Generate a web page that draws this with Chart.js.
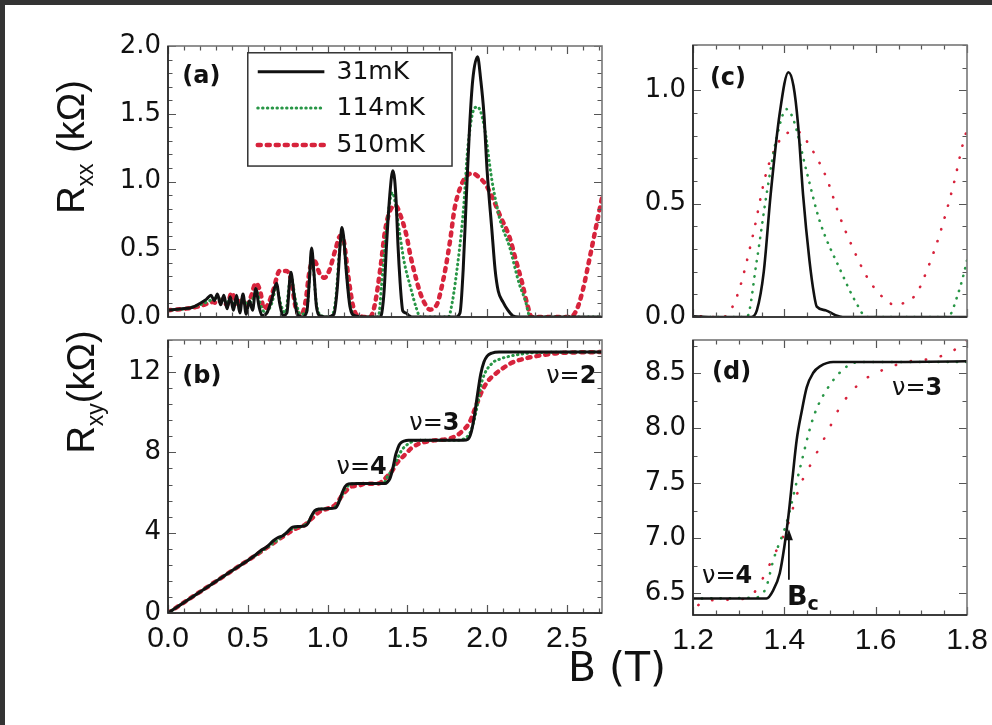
<!DOCTYPE html>
<html><head><meta charset="utf-8">
<script src="https://cdn.jsdelivr.net/npm/chart.js@4.4.0/dist/chart.umd.min.js"></script>
<style>
html,body{margin:0;padding:0;background:#333;width:992px;height:725px;overflow:hidden;}
#page{position:absolute;left:5px;top:5px;width:987px;height:720px;background:#fff;}
.pane{position:absolute;}
.title{position:absolute;font-family:'Liberation Sans',Arial,sans-serif;color:#111;white-space:nowrap;line-height:1;}
.rot{transform:translate(-50%,-50%) rotate(-90deg);font-size:38px;}
.rot sub{font-size:23px;vertical-align:-9px;}
</style></head><body>
<div id="page"></div>
<div class="pane" style="left:80px;top:30px;"><canvas id="ca" width="540" height="300"></canvas></div>
<div class="pane" style="left:80px;top:330px;"><canvas id="cb" width="540" height="330"></canvas></div>
<div class="pane" style="left:610px;top:30px;"><canvas id="cc" width="380" height="300"></canvas></div>
<div class="pane" style="left:610px;top:330px;"><canvas id="cd" width="380" height="330"></canvas></div>
<div class="title rot" style="left:74px;top:147px;">R<sub>xx</sub> (kΩ)</div>
<div class="title rot" style="left:84px;top:392px;">R<sub>xy</sub>(kΩ)</div>
<div class="title" style="left:617px;top:667px;transform:translate(-50%,-50%);font-family:'DejaVu Sans',sans-serif;font-size:41px;">B (T)</div>
<script>
// ---------- DATA ----------
const seriesNames = ['31mK', '114mK', '510mK'];

// R_xx, 31 mK
const Bxx31 = [0,0.08,0.15,0.2,0.24,0.27,0.29,0.31,0.33,0.35,
  0.37,0.39,0.41,0.43,0.45,0.47,0.49,0.51,0.53,0.55,
  0.57,0.59,0.62,0.65,0.68,0.70,0.72,0.745,0.77,0.79,
  0.81,0.84,0.87,0.885,0.90,0.915,0.93,0.95,1.00,1.04,
  1.06,1.08,1.09,1.10,1.12,1.14,1.17,1.25,1.328,1.34,
  1.355,1.37,1.39,1.409,1.42,1.43,1.441,1.455,1.465,1.471,
  1.49,1.51,1.528,1.6,1.8,1.83,1.85,1.87,1.89,1.91,
  1.94,1.96,1.98,2.00,2.03,2.05,2.07,2.10,2.13,2.16,
  2.2,2.72];
const Rxx31 = [0.05,0.06,0.07,0.10,0.13,0.16,0.12,0.17,0.09,0.16,
  0.06,0.15,0.05,0.16,0.03,0.17,0.02,0.12,0.05,0.21,
  0.08,0.01,0.03,0.13,0.25,0.10,0.01,0.03,0.33,0.16,
  0.02,0.00,0.04,0.25,0.51,0.32,0.08,0.01,0.00,0.02,
  0.20,0.55,0.66,0.60,0.30,0.08,0.01,0,0,0.03,
  0.20,0.54,0.90,1.08,1.02,0.85,0.54,0.25,0.10,0.046,
  0.03,0.01,0,0,0,0.03,0.35,0.89,1.40,1.75,
  1.92,1.75,1.50,1.08,0.64,0.35,0.19,0.11,0.05,0.01,
  0,0];

// R_xx, 114 mK
const Bxx114 = [0,0.1,0.2,0.26,0.30,0.34,0.38,0.42,0.46,0.50,
  0.53,0.555,0.58,0.61,0.65,0.68,0.71,0.735,0.77,0.80,
  0.83,0.87,0.90,0.93,0.96,1.02,1.05,1.08,1.095,1.11,
  1.14,1.17,1.2,1.318,1.339,1.361,1.383,1.405,1.42,1.449,
  1.478,1.522,1.558,1.58,1.758,1.78,1.80,1.85,1.88,1.92,
  1.94,1.98,2.03,2.08,2.14,2.20,2.24,2.27,2.72];
const Rxx114 = [0.05,0.06,0.09,0.12,0.14,0.13,0.11,0.10,0.12,0.10,
  0.13,0.19,0.09,0.03,0.10,0.22,0.08,0.03,0.30,0.12,
  0.02,0.05,0.46,0.10,0.01,0.0,0.12,0.55,0.60,0.45,
  0.10,0.01,0,0,0.24,0.54,0.79,0.917,0.87,0.64,
  0.42,0.21,0.06,0,0,0.10,0.25,0.77,1.26,1.54,
  1.55,1.42,1.01,0.72,0.52,0.25,0.12,0,0];

// R_xx, 510 mK
const Bxx510 = [0,0.1,0.2,0.25,0.28,0.31,0.34,0.37,0.40,0.43,
  0.46,0.49,0.52,0.55,0.58,0.60,0.63,0.66,0.70,0.74,
  0.77,0.80,0.83,0.86,0.89,0.92,0.95,0.98,1.01,1.05,
  1.08,1.10,1.13,1.16,1.19,1.266,1.296,1.33,1.361,1.39,
  1.427,1.46,1.493,1.52,1.551,1.58,1.61,1.642,1.67,1.69,
  1.715,1.741,1.77,1.796,1.83,1.87,1.91,1.95,1.99,2.03,
  2.08,2.14,2.18,2.22,2.25,2.28,2.52,2.56,2.60,2.64,
  2.68,2.72];
const Rxx510 = [0.05,0.06,0.08,0.10,0.11,0.10,0.13,0.09,0.18,0.10,
  0.14,0.08,0.15,0.25,0.18,0.06,0.10,0.20,0.34,0.34,
  0.28,0.07,0.01,0.10,0.36,0.41,0.32,0.29,0.34,0.50,
  0.60,0.57,0.30,0.08,0.01,0,0.09,0.35,0.64,0.78,
  0.82,0.74,0.61,0.45,0.30,0.18,0.098,0.054,0.07,0.105,
  0.22,0.37,0.58,0.80,0.95,1.04,1.06,1.03,0.98,0.89,
  0.75,0.59,0.42,0.25,0.10,0,0,0.05,0.20,0.42,
  0.65,0.88];

// R_xy, 31 mK
const Bxy31 = [0,0.2,0.4,0.5,0.55,0.58,0.62,0.66,0.69,0.72,
  0.75,0.78,0.82,0.86,0.88,0.90,0.92,0.95,1.0,1.05,
  1.07,1.09,1.11,1.13,1.2,1.3,1.361,1.375,1.39,1.40,
  1.409,1.418,1.427,1.438,1.449,1.463,1.478,1.507,1.6,1.85,
  1.88,1.90,1.92,1.94,1.96,1.98,2.0,2.03,2.075,2.72];
const Rxy31 = [0,1.05,2.1,2.62,2.9,3.1,3.3,3.6,3.76,3.85,
  4.05,4.28,4.31,4.34,4.5,4.85,5.1,5.18,5.2,5.24,
  5.5,5.95,6.3,6.43,6.45,6.45,6.45,6.52,6.68,6.92,
  7.2,7.55,7.89,8.15,8.37,8.5,8.56,8.6,8.6,8.61,
  8.66,9.0,9.8,10.9,11.9,12.5,12.8,12.95,13.0,13.0];

// R_xy, 114 mK
const Bxy114 = [0,0.2,0.4,0.5,0.6,0.7,0.78,0.84,0.88,0.91,
  0.94,1.0,1.05,1.08,1.11,1.14,1.2,1.339,1.36,1.376,
  1.405,1.434,1.463,1.493,1.537,1.566,1.8,1.86,1.9,1.93,
  1.97,2.03,2.08,2.13,2.2,2.3,2.72];
const Rxy114 = [0,1.05,2.1,2.62,3.15,3.72,4.2,4.32,4.55,4.95,
  5.15,5.2,5.3,5.7,6.15,6.4,6.45,6.46,6.55,6.80,
  7.14,7.63,8.09,8.35,8.56,8.6,8.6,8.7,9.1,10.0,
  11.6,12.43,12.65,12.77,12.88,12.97,13.0];

// R_xy, 510 mK
const Bxy510 = [0,0.2,0.4,0.5,0.6,0.7,0.8,0.85,0.9,0.95,
  1.0,1.05,1.1,1.15,1.2,1.225,1.32,1.347,1.376,1.405,
  1.434,1.463,1.493,1.522,1.566,1.617,1.668,1.741,1.8,1.85,
  1.89,1.93,1.97,2.01,2.05,2.1,2.15,2.25,2.35,2.45,
  2.72];
const Rxy510 = [0,1.05,2.1,2.62,3.15,3.7,4.2,4.35,4.7,5.05,
  5.2,5.4,5.95,6.3,6.35,6.43,6.45,6.59,6.83,7.09,
  7.47,7.71,7.95,8.19,8.41,8.53,8.60,8.65,8.80,9.1,
  9.5,10.3,11.1,11.6,11.9,12.2,12.45,12.7,12.85,12.95,
  13.0];

// tick labels
const ticksB_full = [0, 0.5, 1.0, 1.5, 2.0, 2.5];
const ticksB_zoom = [1.2, 1.4, 1.6, 1.8];
const ticksRxx_full = [0, 0.5, 1.0, 1.5, 2.0];
const ticksRxy_full = [0, 4, 8, 12];
const ticksRxx_zoom = [0, 0.5, 1.0];
const ticksRxy_zoom = [6.5, 7.0, 7.5, 8.0, 8.5];

// ---------- STYLE / PLUGINS ----------
const BLACK = '#111111', GREEN = 'rgb(40,150,70)', RED = 'rgb(215,35,60)';
const YFONT = {family: "'DejaVu Sans', sans-serif", size: 26};
const XFONT = {family: "'Liberation Sans Narrow', 'Liberation Sans', sans-serif", size: 30};

function pts(B, R) { return B.map((b, i) => ({x: b, y: R[i]})); }

function ds(B, R, label, color, width, dash, cap) {
  return {label, data: pts(B, R), borderColor: color, borderWidth: width,
    borderDash: dash || [], borderCapStyle: cap || 'butt', pointRadius: 0,
    cubicInterpolationMode: 'monotone', fill: false};
}

const framePlugin = {
  id: 'frame',
  afterDatasetsDraw(chart, args, o) {
    const {ctx, chartArea: a, scales: {x, y}} = chart;
    const marks = (min, max, major, minor) => {
      const out = [];
      const n0 = Math.ceil(min / minor - 1e-6), n1 = Math.floor(max / minor + 1e-6);
      for (let k = n0; k <= n1; k++) {
        const v = k * minor, r = v / major;
        out.push([v, Math.abs(r - Math.round(r)) < 1e-6]);
      }
      return out;
    };
    ctx.save();
    ctx.strokeStyle = '#555';
    ctx.lineWidth = 1.2;
    ctx.beginPath();
    for (const [v, maj] of marks(x.min, x.max, o.xMajor, o.xMinor)) {
      const px = Math.round(x.getPixelForValue(v)) + 0.5, L = maj ? 8 : 4.5;
      ctx.moveTo(px, a.bottom); ctx.lineTo(px, a.bottom - L);
      ctx.moveTo(px, a.top); ctx.lineTo(px, a.top + L);
    }
    for (const [v, maj] of marks(y.min, y.max, o.yMajor, o.yMinor)) {
      const py = Math.round(y.getPixelForValue(v)) + 0.5, L = maj ? 8 : 4.5;
      ctx.moveTo(a.left, py); ctx.lineTo(a.left + L, py);
      ctx.moveTo(a.right, py); ctx.lineTo(a.right - L, py);
    }
    ctx.stroke();
    ctx.lineWidth = 1.6;
    ctx.strokeStyle = '#777';
    ctx.strokeRect(a.left, a.top, a.right - a.left, a.bottom - a.top);
    ctx.strokeStyle = '#222';
    ctx.beginPath();
    ctx.moveTo(a.left, a.top); ctx.lineTo(a.left, a.bottom); ctx.lineTo(a.right, a.bottom);
    ctx.stroke();
    ctx.restore();
  }
};

const notesPlugin = {
  id: 'notes',
  afterDraw(chart, args, o) {
    const {ctx, scales: {x, y}} = chart;
    ctx.save();
    ctx.fillStyle = '#111';
    ctx.textBaseline = 'middle';
    ctx.textAlign = 'left';
    for (const it of (o.items || [])) {
      let px = x.getPixelForValue(it.x);
      const py = y.getPixelForValue(it.y);
      for (const [t, font, dy] of it.parts) {
        ctx.font = font;
        ctx.fillText(t, px, py + (dy || 0));
        px += ctx.measureText(t).width;
      }
    }
    for (const ar of (o.arrows || [])) {
      const px = x.getPixelForValue(ar.x);
      const y0 = y.getPixelForValue(ar.y0), y1 = y.getPixelForValue(ar.y1);
      ctx.strokeStyle = '#111'; ctx.lineWidth = 1.8;
      ctx.beginPath(); ctx.moveTo(px, y0); ctx.lineTo(px, y1 + 6); ctx.stroke();
      ctx.beginPath(); ctx.moveTo(px, y1); ctx.lineTo(px - 4, y1 + 11); ctx.lineTo(px + 4, y1 + 11); ctx.closePath(); ctx.fill();
    }
    ctx.restore();
  }
};

const boxLegendPlugin = {
  id: 'boxLegend',
  afterDraw(chart, args, o) {
    if (!o.box) return;
    const {ctx, scales: {x, y}} = chart;
    const L = x.getPixelForValue(o.box[0]), T = y.getPixelForValue(o.box[1]);
    const R = x.getPixelForValue(o.box[2]), Bt = y.getPixelForValue(o.box[3]);
    ctx.save();
    ctx.fillStyle = '#fff';
    ctx.fillRect(L, T, R - L, Bt - T);
    ctx.strokeStyle = '#333'; ctx.lineWidth = 1.5;
    ctx.strokeRect(L, T, R - L, Bt - T);
    const l0 = x.getPixelForValue(o.line[0]), l1 = x.getPixelForValue(o.line[1]);
    const tx = x.getPixelForValue(o.textX);
    chart.data.datasets.forEach((d, i) => {
      const py = y.getPixelForValue(o.rows[i]);
      ctx.strokeStyle = d.borderColor; ctx.lineWidth = d.borderWidth;
      ctx.setLineDash(d.borderDash); ctx.lineCap = d.borderCapStyle;
      ctx.beginPath(); ctx.moveTo(l0, py); ctx.lineTo(l1, py); ctx.stroke();
      ctx.setLineDash([]);
      ctx.fillStyle = '#111'; ctx.font = o.font; ctx.textBaseline = 'middle';
      ctx.fillText(d.label, tx, py + 1);
    });
    ctx.restore();
  }
};

function axisX(min, max, h, ticks, showLabels) {
  return {type: 'linear', min, max,
    afterFit: s => { s.height = h; s.paddingLeft = 0; s.paddingRight = 0; s.paddingTop = 0; s.paddingBottom = 0; },
    afterBuildTicks: s => { s.ticks = ticks.map(v => ({value: v})); },
    ticks: {display: showLabels, font: XFONT, color: '#111', padding: 8, maxRotation: 0,
      callback: v => v.toFixed(1)},
    grid: {display: false, drawTicks: false}, border: {display: false}};
}
function axisY(min, max, w, ticks, fmt) {
  return {type: 'linear', min, max,
    afterFit: s => { s.width = w; s.paddingLeft = 0; s.paddingRight = 0; s.paddingTop = 0; s.paddingBottom = 0; },
    afterBuildTicks: s => { s.ticks = ticks.map(v => ({value: v})); },
    ticks: {font: YFONT, color: '#111', padding: 7, callback: fmt},
    grid: {display: false, drawTicks: false}, border: {display: false}};
}

const NU = '24px "DejaVu Sans", sans-serif';
const NUB = 'bold 24px "DejaVu Sans", sans-serif';
const PANEL = 'bold 24px "DejaVu Sans", sans-serif';
const f1 = v => v.toFixed(1);

function build(id, datasets, xs, ys, pad, frame, notes, legend) {
  return new Chart(document.getElementById(id), {
    type: 'line',
    data: {datasets},
    options: {
      responsive: false, animation: false, events: [],
      layout: {padding: pad},
      plugins: {legend: {display: false}, tooltip: {enabled: false},
        frame, notes, boxLegend: legend || {}},
      scales: {x: xs, y: ys}
    },
    plugins: [framePlugin, notesPlugin, boxLegendPlugin]
  });
}

// (a)
build('ca', [
    ds(Bxx31, Rxx31, seriesNames[0], BLACK, 3),
    ds(Bxx114, Rxx114, seriesNames[1], GREEN, 3, [0.5, 4.3], 'round'),
    ds(Bxx510, Rxx510, seriesNames[2], RED, 4.5, [3, 6], 'round')],
  axisX(0, 2.72, 13, ticksB_full, false),
  axisY(0, 2.0, 88, ticksRxx_full, f1),
  {left: 0, right: 18, top: 16, bottom: 0},
  {xMajor: 0.5, xMinor: 0.1, yMajor: 0.5, yMinor: 0.1},
  {items: [{x: 0.09, y: 1.77, parts: [['(a)', PANEL]]}]},
  {box: [0.5, 1.95, 1.78, 1.114], line: [0.5625, 0.98], textX: 1.056,
   rows: [1.81, 1.543, 1.27], font: '25px "DejaVu Sans", sans-serif'});

// (b)
build('cb', [
    ds(Bxy31, Rxy31, seriesNames[0], BLACK, 3),
    ds(Bxy114, Rxy114, seriesNames[1], GREEN, 3, [0.5, 4.3], 'round'),
    ds(Bxy510, Rxy510, seriesNames[2], RED, 4.5, [3, 6], 'round')],
  axisX(0, 2.72, 47, ticksB_full, true),
  axisY(0, 13.6, 88, ticksRxy_full, v => String(v)),
  {left: 0, right: 18, top: 10, bottom: 0},
  {xMajor: 0.5, xMinor: 0.1, yMajor: 4, yMinor: 0.8},
  {items: [
    {x: 0.09, y: 11.75, parts: [['(b)', PANEL]]},
    {x: 1.056, y: 7.22, parts: [['ν=', NU], ['4', NUB]]},
    {x: 1.5125, y: 9.41, parts: [['ν=', NU], ['3', NUB]]},
    {x: 2.37, y: 11.75, parts: [['ν=', NU], ['2', NUB]]}]});

// (c)
build('cc', [
    ds(Bxx31, Rxx31, seriesNames[0], BLACK, 2.6),
    ds(Bxx114, Rxx114, seriesNames[1], GREEN, 2.6, [0.3, 7.5], 'round'),
    ds(Bxx510, Rxx510, seriesNames[2], RED, 2.6, [0.3, 12], 'round')],
  axisX(1.2, 1.8, 13, ticksB_zoom, false),
  axisY(0, 1.2, 83, ticksRxx_zoom, f1),
  {left: 0, right: 23, top: 15, bottom: 0},
  {xMajor: 0.2, xMinor: 0.05, yMajor: 0.5, yMinor: 0.1},
  {items: [{x: 1.237, y: 1.05, parts: [['(c)', PANEL]]}]});

// (d)
build('cd', [
    ds(Bxy31, Rxy31, seriesNames[0], BLACK, 2.6),
    ds(Bxy114, Rxy114, seriesNames[1], GREEN, 2.6, [0.3, 9], 'round'),
    ds(Bxy510, Rxy510, seriesNames[2], RED, 2.6, [0.3, 15], 'round')],
  axisX(1.2, 1.8, 45, ticksB_zoom, true),
  axisY(6.3, 8.8, 83, ticksRxy_zoom, f1),
  {left: 0, right: 23, top: 10, bottom: 0},
  {xMajor: 0.2, xMinor: 0.05, yMajor: 0.5, yMinor: 0.25},
  {items: [
    {x: 1.2416, y: 8.5, parts: [['(d)', PANEL]]},
    {x: 1.636, y: 8.355, parts: [['ν=', NU], ['3', NUB]]},
    {x: 1.2197, y: 6.645, parts: [['ν=', NU], ['4', NUB]]},
    {x: 1.4058, y: 6.455, parts: [['B', 'bold 27px "DejaVu Sans", sans-serif'], ['c', 'bold 19px "DejaVu Sans", sans-serif', 7]]}],
   arrows: [{x: 1.41, y0: 6.62, y1: 7.08}]});
</script>
</body></html>
